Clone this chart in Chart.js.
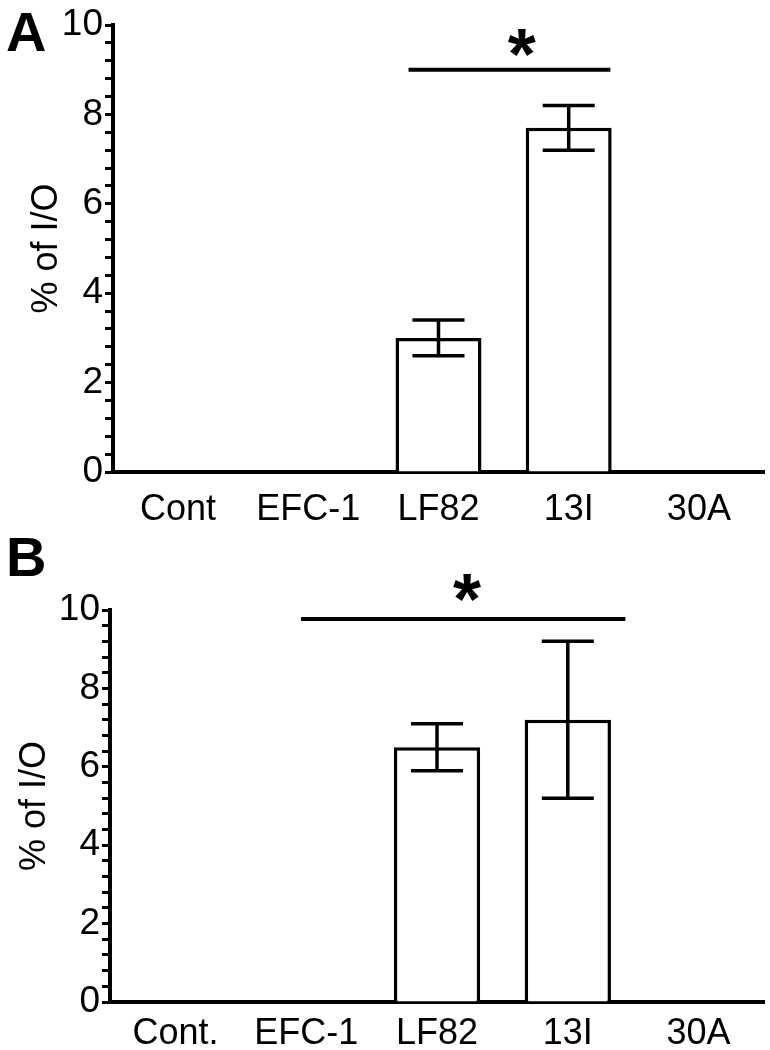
<!DOCTYPE html>
<html>
<head>
<meta charset="utf-8">
<script src="https://cdn.jsdelivr.net/npm/chart.js@4.4.1/dist/chart.umd.min.js"></script>
<style>
  body { margin: 0; background: #fff; }
  #page { position: relative; width: 770px; height: 1050px; overflow: hidden; }
  .box { position: absolute; left: 0; width: 770px; height: 525px; }
  .panel { position: absolute; left: 6px; font: bold 56px "Liberation Sans", Arial, sans-serif; color: #000; line-height: 1; }
</style>
</head>
<body>
<div id="page">
  <div class="box" style="top:0"><canvas id="chartA" width="770" height="525"></canvas></div>
  <div class="box" style="top:525px"><canvas id="chartB" width="770" height="525"></canvas></div>
  <div class="panel" style="top:4px">A</div>
  <div class="panel" style="top:529px">B</div>
</div>
<script>
// data
var categoriesA = ["Cont", "EFC-1", "LF82", "13I", "30A"];
var categoriesB = ["Cont.", "EFC-1", "LF82", "13I", "30A"];
var valuesA = [null, null, 3.0, 7.7, null];
var errorsA = [null, null, 0.4, 0.5, null];
var valuesB = [null, null, 6.5, 7.2, null];
var errorsB = [null, null, 0.6, 2.0, null];
var yLabels = [0, 2, 4, 6, 8, 10];
// significance bar: [from category, to category, y value], star: [category, y value]
var sigLineA = [1.77, 3.32, 9.0];
var sigStarA = [2.64, 9.55];
var sigLineB = [0.96, 3.44, 9.77];
var sigStarB = [2.23, 10.5];

var errorBars = {
  id: 'errorBars',
  afterDatasetsDraw: function(chart, args, opts) {
    var ctx = chart.ctx;
    var xs = chart.scales.x, ys = chart.scales.y;
    ctx.save();
    ctx.strokeStyle = '#000';
    ctx.lineWidth = 3.5;
    for (var i = 0; i < opts.values.length; i++) {
      if (opts.values[i] == null || opts.errors[i] == null) continue;
      var x = xs.getPixelForValue(i);
      var hi = ys.getPixelForValue(opts.values[i] + opts.errors[i]);
      var lo = ys.getPixelForValue(opts.values[i] - opts.errors[i]);
      var cap = 26;
      ctx.beginPath();
      ctx.moveTo(x, hi); ctx.lineTo(x, lo);
      ctx.moveTo(x - cap, hi); ctx.lineTo(x + cap, hi);
      ctx.moveTo(x - cap, lo); ctx.lineTo(x + cap, lo);
      ctx.stroke();
    }
    // significance line and star
    var l = opts.line, s = opts.star;
    ctx.lineWidth = 4;
    ctx.beginPath();
    ctx.moveTo(xs.getPixelForValue(l[0]), ys.getPixelForValue(l[2]));
    ctx.lineTo(xs.getPixelForValue(l[1]), ys.getPixelForValue(l[2]));
    ctx.stroke();
    ctx.fillStyle = '#000';
    ctx.font = 'bold 72px "Liberation Sans", Arial, sans-serif';
    ctx.textAlign = 'center';
    ctx.textBaseline = 'middle';
    ctx.fillText('*', xs.getPixelForValue(s[0]), ys.getPixelForValue(s[1]) + 14);
    ctx.restore();
  }
};

function makeChart(id, labels, values, errors, line, star, dims) {
  var ctx = document.getElementById(id);
  return new Chart(ctx, {
    type: 'bar',
    data: {
      labels: labels,
      datasets: [{
        data: values,
        backgroundColor: '#fff',
        borderColor: '#000',
        borderWidth: 3.5,
        borderSkipped: 'bottom',
        categoryPercentage: 1.0,
        barPercentage: 0.66
      }]
    },
    options: {
      responsive: false,
      animation: false,
      layout: { padding: { top: dims.top, right: 6, left: 0, bottom: 0 } },
      plugins: {
        legend: { display: false },
        tooltip: { enabled: false },
        errorBars: { values: values, errors: errors, line: line, star: star }
      },
      scales: {
        x: {
          grid: { display: false, drawTicks: false },
          border: { display: true, color: '#000', width: 4 },
          ticks: {
            color: '#000', padding: dims.xp, maxRotation: 0, autoSkip: false,
            font: { family: '"Liberation Sans", Arial, sans-serif', size: 36 }
          },
          afterFit: function(scale) { scale.height = dims.xh; }
        },
        y: {
          min: 0, max: 10,
          ticks: {
            stepSize: 0.4, color: '#000', padding: 2, autoSkip: false,
            font: { family: '"Liberation Sans Narrow", "Liberation Sans", Arial, sans-serif', size: 37 },
            callback: function(v) { return yLabels.indexOf(Math.round(v * 10) / 10) >= 0 ? String(Math.round(v)) : ''; }
          },
          grid: {
            drawOnChartArea: false, drawTicks: true, tickLength: 8,
            tickColor: '#000', tickWidth: 3
          },
          border: { display: true, color: '#000', width: 4 },
          title: {
            display: true, text: '% of I/O', color: '#000',
            font: { family: '"Liberation Sans", Arial, sans-serif', size: 36 },
            padding: { top: dims.tp, bottom: 0 }
          },
          afterFit: function(scale) { scale.width = dims.yw; }
        }
      }
    },
    plugins: [errorBars]
  });
}

makeChart('chartA', categoriesA, valuesA, errorsA, sigLineA, sigStarA, { top: 25, xh: 53, yw: 113, tp: 25, xp: 16 });
makeChart('chartB', categoriesB, valuesB, errorsB, sigLineB, sigStarB, { top: 85, xh: 48, yw: 110, tp: 13, xp: 10 });
</script>
</body>
</html>
